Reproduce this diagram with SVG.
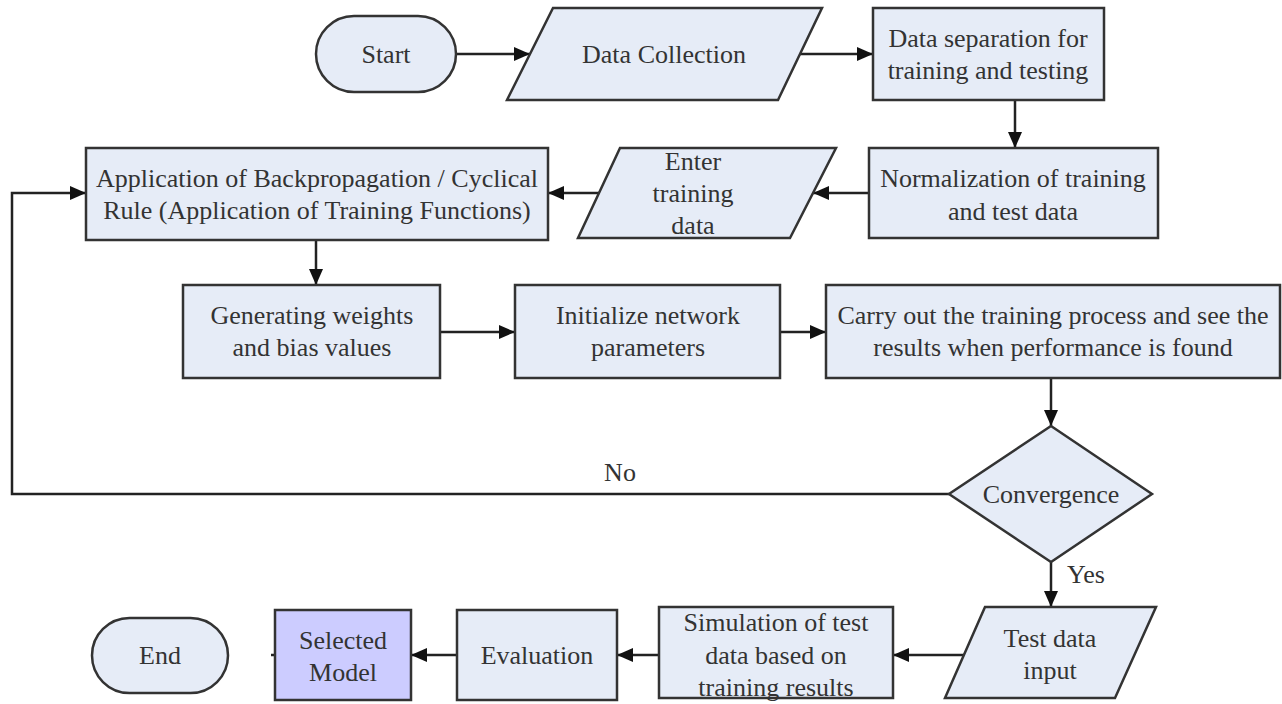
<svg xmlns="http://www.w3.org/2000/svg" width="1282" height="704" viewBox="0 0 1282 704">
<style>
.n{fill:#e6ecf7;stroke:#333;stroke-width:2.5}
.sel{fill:#ccccff;stroke:#333;stroke-width:2.5}
.t{font-family:"Liberation Serif","Times New Roman",serif;font-size:26px;fill:#333;text-anchor:middle;dominant-baseline:central}
.c{fill:none;stroke:#222;stroke-width:2.5}
</style>
<defs>
<marker id="a" viewBox="0 0 16 14" refX="16" refY="7" markerWidth="16" markerHeight="14" markerUnits="userSpaceOnUse" orient="auto">
<path d="M0,0 L16,7 L0,14 z" fill="#111"/>
</marker>
</defs>
<rect width="1282" height="704" fill="#fff"/>
<g id="connectors">
<line class="c" x1="456" y1="54" x2="530" y2="54" marker-end="url(#a)"/>
<line class="c" x1="800" y1="54" x2="873" y2="54" marker-end="url(#a)"/>
<line class="c" x1="1015" y1="100" x2="1015" y2="148" marker-end="url(#a)"/>
<line class="c" x1="869" y1="193" x2="813" y2="193" marker-end="url(#a)"/>
<line class="c" x1="599" y1="193" x2="548" y2="193" marker-end="url(#a)"/>
<line class="c" x1="316" y1="240" x2="316" y2="285" marker-end="url(#a)"/>
<line class="c" x1="440" y1="332" x2="515" y2="332" marker-end="url(#a)"/>
<line class="c" x1="780" y1="332" x2="826" y2="332" marker-end="url(#a)"/>
<line class="c" x1="1051" y1="378" x2="1051" y2="426" marker-end="url(#a)"/>
<polyline class="c" points="949,494 12,494 12,193 86,193" marker-end="url(#a)"/>
<line class="c" x1="1051" y1="562" x2="1051" y2="607" marker-end="url(#a)"/>
<line class="c" x1="964" y1="655" x2="893" y2="655" marker-end="url(#a)"/>
<line class="c" x1="659" y1="655" x2="617" y2="655" marker-end="url(#a)"/>
<line class="c" x1="457" y1="655" x2="411" y2="655" marker-end="url(#a)"/>
<line class="c" x1="271" y1="655" x2="275" y2="655"/>
<text class="t" x="620" y="472">No</text>
<text class="t" x="1086" y="574">Yes</text>
</g>
<g id="start">
<rect class="n" x="316" y="16" width="140" height="76" rx="38"/>
<text class="t" x="386" y="54">Start</text>
</g>
<g id="data-collection">
<polygon class="n" points="553,8 822,8 778,100 507,100"/>
<text class="t" x="664" y="54">Data Collection</text>
</g>
<g id="data-separation">
<rect class="n" x="873" y="8" width="231" height="92"/>
<text class="t" x="988" y="38">Data separation for</text>
<text class="t" x="988" y="70">training and testing</text>
</g>
<g id="normalization">
<rect class="n" x="869" y="148" width="289" height="90"/>
<text class="t" x="1013" y="178">Normalization of training</text>
<text class="t" x="1013" y="211">and test data</text>
</g>
<g id="enter-training">
<polygon class="n" points="620,148 836,148 790,238 578,238"/>
<text class="t" x="693" y="161">Enter</text>
<text class="t" x="693" y="193">training</text>
<text class="t" x="693" y="225">data</text>
</g>
<g id="backprop">
<rect class="n" x="86" y="148" width="462" height="92"/>
<text class="t" x="317" y="178">Application of Backpropagation / Cyclical</text>
<text class="t" x="317" y="210">Rule (Application of Training Functions)</text>
</g>
<g id="weights">
<rect class="n" x="183" y="285" width="257" height="93"/>
<text class="t" x="312" y="315">Generating weights</text>
<text class="t" x="312" y="347">and bias values</text>
</g>
<g id="init">
<rect class="n" x="515" y="285" width="265" height="93"/>
<text class="t" x="648" y="315">Initialize network</text>
<text class="t" x="648" y="347">parameters</text>
</g>
<g id="training">
<rect class="n" x="826" y="285" width="454" height="93"/>
<text class="t" x="1053" y="315">Carry out the training process and see the</text>
<text class="t" x="1053" y="347">results when performance is found</text>
</g>
<g id="convergence">
<polygon class="n" points="1051,426 1152,494 1051,562 949,494"/>
<text class="t" x="1051" y="494">Convergence</text>
</g>
<g id="test-input">
<polygon class="n" points="985,607 1156,607 1115,698 945,698"/>
<text class="t" x="1050" y="638">Test data</text>
<text class="t" x="1050" y="670">input</text>
</g>
<g id="simulation">
<rect class="n" x="659" y="607" width="234" height="91"/>
<text class="t" x="776" y="622">Simulation of test</text>
<text class="t" x="776" y="655">data based on</text>
<text class="t" x="776" y="687">training results</text>
</g>
<g id="evaluation">
<rect class="n" x="457" y="610" width="160" height="90"/>
<text class="t" x="537" y="655">Evaluation</text>
</g>
<g id="selected">
<rect class="sel" x="275" y="610" width="136" height="90"/>
<text class="t" x="343" y="640">Selected</text>
<text class="t" x="343" y="672">Model</text>
</g>
<g id="end">
<rect class="n" x="92" y="618" width="136" height="75" rx="37.5"/>
<text class="t" x="160" y="655">End</text>
</g>
</svg>
